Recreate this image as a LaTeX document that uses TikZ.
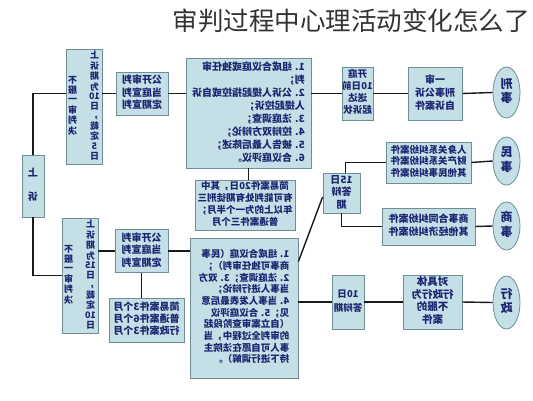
\documentclass[tikz,border=0pt]{standalone}
\usepackage{fontspec}
\setmainfont{Noto Sans CJK SC}
\usepackage{graphicx}
\usetikzlibrary{calc,shapes.geometric}
\definecolor{boxfill}{HTML}{C4E0E6}
\definecolor{boxline}{HTML}{6E8E96}
\definecolor{txt}{HTML}{1C2470}
\definecolor{wirecol}{HTML}{1A1A1A}
\definecolor{ttl}{HTML}{333333}
\newcommand{\mt}[2]{\reflectbox{\begin{tabular}{@{}#1@{}}#2\end{tabular}}}
\newcommand{\fs}[2]{\fontsize{#1}{#2}\selectfont\bfseries}
\begin{document}
\begin{tikzpicture}[x=1pt,y=-1pt,
  box/.style={rectangle,draw=boxline,fill=boxfill,line width=0.8pt,inner sep=0pt,text=txt},
  oval/.style={ellipse,draw=boxline,fill=boxfill,line width=0.8pt,inner sep=0pt,text=txt},
  sz/.style 2 args={minimum width=#1pt,minimum height=#2pt},
  wire/.style={draw=wirecol,line width=1.4pt}]
\fill[white] (0,0) rectangle (533,400);
\useasboundingbox (0,0) rectangle (533,400);

\node[text=ttl,font=\fontsize{25.5}{28}\selectfont] (title) at (351,21) {审判过程中心理活动变化怎么了};

% left column
\node[box,sz={22}{62},font=\fs{10}{11}] (su) at (33,186) {\mt{c}{上\\[12pt]诉}};
\node[box,sz={36}{115},font=\fs{9}{9.3}] (tl) at (84,106.5)
  {\mt{cc}{\begin{tabular}{@{}c@{}}上\\诉\\期\\为\\10\\日\\，\\裁\\定\\5\\日\end{tabular}\hspace{2pt}&\begin{tabular}{@{}c@{}}不\\服\\一\\审\\判\\决\end{tabular}}};
\node[box,sz={36}{115},font=\fs{9}{9.3}] (ll) at (80,275.5)
  {\mt{cc}{\begin{tabular}{@{}c@{}}上\\诉\\期\\为\\15\\日\\，\\裁\\定\\10\\日\end{tabular}\hspace{2pt}&\begin{tabular}{@{}c@{}}不\\服\\一\\审\\判\\决\end{tabular}}};

% top row
\node[box,sz={52}{43},font=\fs{10}{12.5}] (gk) at (142,93.5) {\mt{c}{公开审判\\当庭宣判\\定期宣判}};
\node[box,sz={125}{110},font=\fs{10}{13}] (tb) at (248.5,113)
  {\mt{l}{1. 组成合议庭或独任审\\判；\\2. 公诉人提起指控或自诉\\人提起控诉；\\3. 法庭调查；\\4. 控辩双方辩论；\\5. 被告人最后陈述；\\6. 合议庭评议。}};
\node[box,sz={100}{50},font=\fs{9.5}{12.3}] (jy1) at (245,205)
  {\mt{c}{简易案件20日，其中\\有可能判处有期徒刑三\\年以上的为一个半月；\\普通案件三个月}};
\node[box,sz={31}{53},font=\fs{9.5}{12}] (kt) at (357.5,93.5) {\mt{c}{开庭\\10日前\\送达\\起诉状}};
\node[box,sz={54}{53},font=\fs{10}{13}] (ys) at (435,93.5) {\mt{c}{一审\\刑事公诉\\自诉案件}};
\node[oval,sz={27}{51},font=\fs{12}{13.5}] (xs) at (506.5,92.5) {\mt{c}{刑\\事}};

% middle right
\node[box,sz={37}{40},font=\fs{10}{12.5}] (d15) at (341.5,193) {\mt{c}{15日\\答辩\\期}};
\node[box,sz={85}{41},font=\fs{9.5}{11.8}] (rs) at (428.5,162.5) {\mt{c}{人身关系纠纷案件\\财产关系纠纷案件\\其他民事纠纷案件}};
\node[oval,sz={27}{48},font=\fs{12}{13.5}] (ms) at (506.5,161) {\mt{c}{民\\事}};
\node[box,sz={93}{37},font=\fs{10}{12.5}] (sh) at (428.5,226.5) {\mt{c}{商事合同纠纷案件\\其他经济纠纷案件}};
\node[oval,sz={27}{48},font=\fs{12}{13.5}] (ss) at (506.5,226) {\mt{c}{商\\事}};

% lower row
\node[box,sz={53}{43},font=\fs{10}{12.5}] (gk2) at (141.5,251) {\mt{c}{公开审判\\当庭宣判\\定期宣判}};
\node[box,sz={75}{44},font=\fs{10}{11.8}] (jy2) at (146.5,320) {\mt{c}{简易案件3个月\\普通案件6个月\\行政案件3个月}};
\node[box,sz={108}{140},font=\fs{9.5}{11.4}] (lb) at (244,308)
  {\mt{l}{1. 组成合议庭（民事\\商事可独任审判）；\\2. 法庭调查；3. 双方\\当事人进行辩论；\\4. 当事人发表最后意\\见；5. 合议庭评议\\（自立案审查阶段起\\的审判全过程中，当\\事人可自愿在法院主\\持下进行调解）。}};
\node[box,sz={32}{54},font=\fs{9.5}{14}] (d10) at (348,302) {\mt{c}{10日\\答辩期}};
\node[box,sz={59}{54},font=\fs{10.5}{11.8}] (dj) at (432.5,302) {\mt{c}{对具体\\行政行为\\不服的\\案件}};
\node[oval,sz={27}{53},font=\fs{12}{13.5}] (xz) at (506.5,302.5) {\mt{c}{行\\政}};

% connectors
\draw[wire] (su.north) |- (tl.west |- gk.center);
\draw[wire] (tl.east |- gk.center) -- (gk.west);
\draw[wire] (gk.east) -- (tb.west |- gk.center);
\draw[wire] (tb.east |- gk.center) -- (kt.west);
\draw[wire] (kt.east) -- (ys.west);
\draw[wire] (ys.east) -- (xs.west);
\draw[wire] (tb.south) -- (tb.south |- jy1.north);
\draw[wire] (su.south) |- (ll.west);
\draw[wire] (ll.east |- gk2.center) -- (gk2.west);
\draw[wire] (gk2.east) -- (lb.west |- gk2.center);
\draw[wire] (gk2.south) -- (gk2.south |- jy2.north);
\draw[wire] ($(lb.north east)!0.17!(lb.south east)$) -- ($(d15.west)+(0,4)$);
\draw[wire] ([xshift=4pt]d15.north) |- (rs.west);
\draw[wire] (d15.south) |- (sh.west);
\draw[wire] (rs.east) -- (ms.west);
\draw[wire] (sh.east) -- (ss.west);
\draw[wire] (lb.east |- d10.west) -- (d10.west);
\draw[wire] (d10.east) -- (dj.west);
\draw[wire] (dj.east) -- (xz.west);
\end{tikzpicture}
\end{document}
